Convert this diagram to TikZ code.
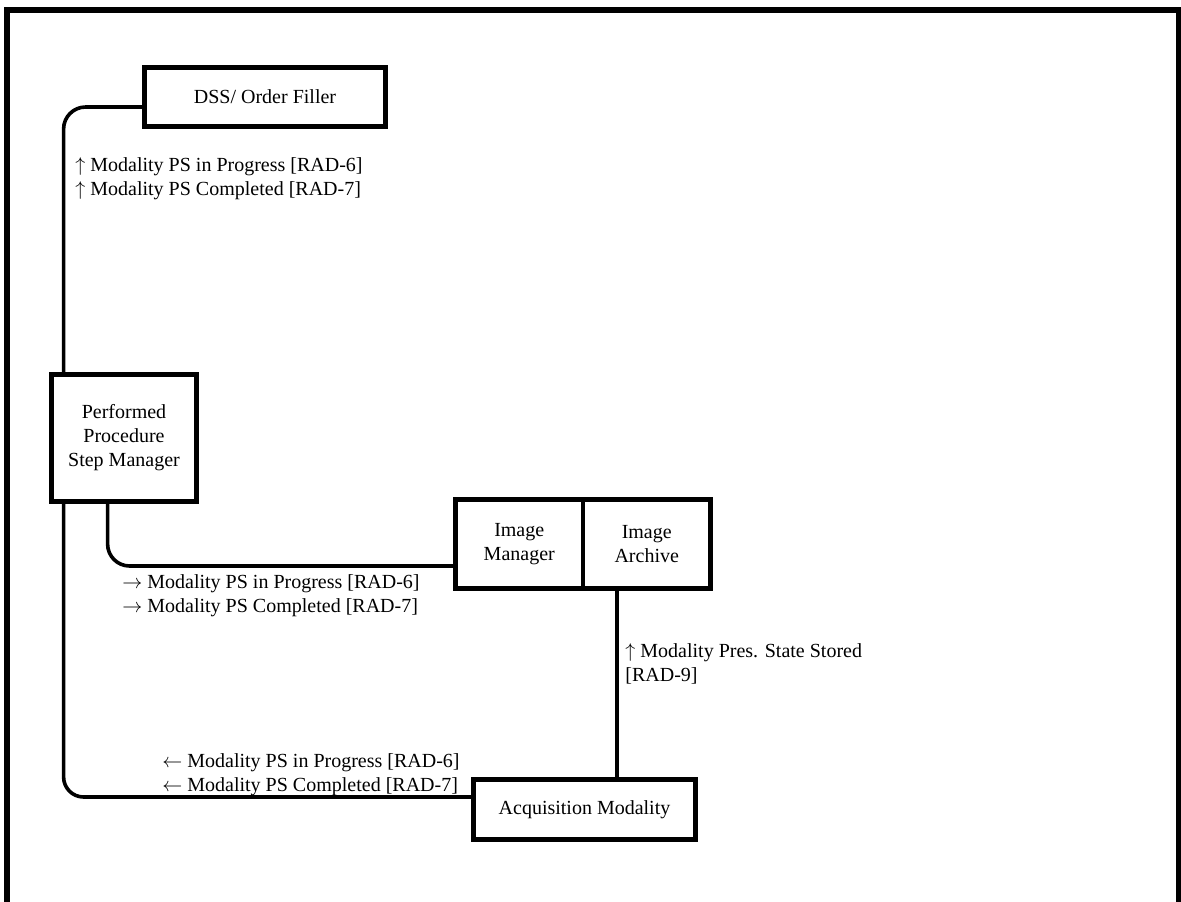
\documentclass[tikz,border=0pt]{standalone}
\usepackage{fontspec}
\setmainfont{Liberation Serif}
\begin{document}
\begin{tikzpicture}[x=0.5pt,y=-0.5pt,
  box/.style={draw,line width=2.4pt,fill=white,align=center,inner sep=0pt,font=\fontsize{10pt}{12pt}\selectfont},
  conn/.style={line width=1.8pt},
  lbl/.style={anchor=base west,align=left,inner sep=0pt,font=\fontsize{10pt}{11.75pt}\selectfont}]
\useasboundingbox (0,0) rectangle (1181,901);
% frame
\draw[line width=3pt] (7,930) -- (7,10) -- (1179,10) -- (1179,930);
% nodes
\node[box,minimum width=241*0.5pt,minimum height=59*0.5pt] (dss) at (265,97) {DSS/ Order Filler};
\node[box,minimum width=145*0.5pt,minimum height=127*0.5pt] (ppsm) at (124,438) {Performed\\Procedure\\Step Manager};
\node[box,minimum width=127.5*0.5pt,minimum height=89*0.5pt] (im) at (519.25,544) {Image\\Manager};
\node[box,minimum width=127.5*0.5pt,minimum height=89*0.5pt] (ia) at (646.75,544) {Image\\Archive};
\node[box,minimum width=222*0.5pt,minimum height=60*0.5pt] (am) at (584.5,809.5) {Acquisition Modality};
% connectors
\draw[conn,rounded corners=11pt] ([yshift=-5pt]dss.west) -| ([xshift=7.25pt]ppsm.north west);
\draw[conn,rounded corners=11pt] ([xshift=29.25pt]ppsm.south west) |- ([yshift=-11pt]im.west);
\draw[conn,rounded corners=10pt] ([xshift=7.25pt]ppsm.south west) |- ([yshift=6.25pt]am.west);
\draw[conn] ([xshift=-14.875pt]ia.south) -- ([xshift=-14.875pt]ia.south |- am.north);
% labels (anchor = baseline of last line)
\node[lbl] (l1) at (75,195) {$\uparrow$ Modality PS in Progress [RAD-6]\\$\uparrow$ Modality PS Completed [RAD-7]};
\node[lbl] (l2) at (122,612) {$\rightarrow$ Modality PS in Progress [RAD-6]\\$\rightarrow$ Modality PS Completed [RAD-7]};
\node[lbl] (l3) at (162,791) {$\leftarrow$ Modality PS in Progress [RAD-6]\\$\leftarrow$ Modality PS Completed [RAD-7]};
\node[lbl] (l4) at (625,681) {$\uparrow$ Modality Pres. State Stored\\{}[RAD-9]};
\end{tikzpicture}
\end{document}
